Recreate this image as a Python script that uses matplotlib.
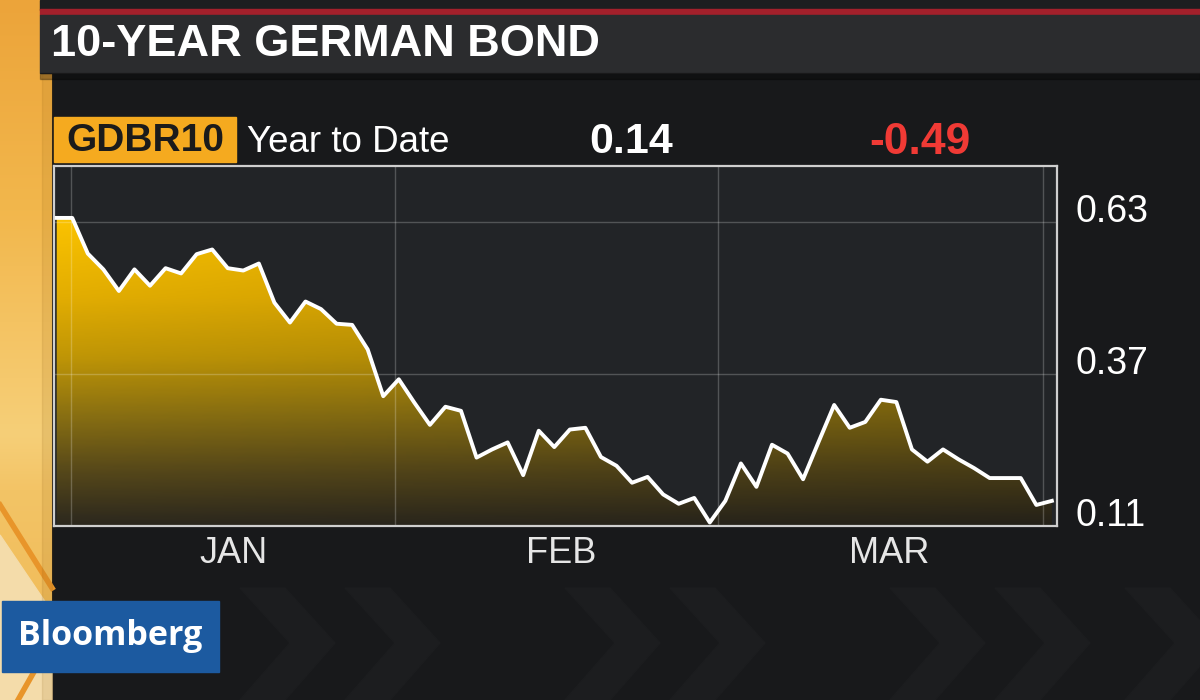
import numpy as np
import matplotlib
matplotlib.use("Agg")
import matplotlib.pyplot as plt
from matplotlib.colors import LinearSegmentedColormap
from matplotlib.patches import Rectangle, Polygon

plt.rcParams["font.family"] = ["Liberation Sans", "DejaVu Sans"]

# ---- data (GDBR10, one point per trading day) ----
YIELD = [0.637, 0.637, 0.576, 0.549, 0.512, 0.549, 0.521, 0.551, 0.542, 0.575,
         0.583, 0.551, 0.547, 0.559, 0.492, 0.458, 0.494, 0.481, 0.456, 0.454,
         0.412, 0.332, 0.361, 0.321, 0.283, 0.314, 0.307, 0.227, 0.241, 0.253,
         0.197, 0.273, 0.245, 0.275, 0.278, 0.228, 0.213, 0.184, 0.194, 0.164,
         0.148, 0.158, 0.116, 0.153, 0.217, 0.177, 0.249, 0.234, 0.190, 0.254,
         0.317, 0.278, 0.288, 0.326, 0.322, 0.241, 0.220, 0.241, 0.224, 0.209,
         0.192, 0.192, 0.192, 0.146, 0.153]
MONTHS = ["JAN", "FEB", "MAR"]
MONTH_CENTERS = [11.38, 32.43, 53.52]      # label positions (day index)
MONTH_EDGES = [0.9, 21.76, 42.55, 63.45]   # vertical grid lines (day index)
Y_TICKS = [0.11, 0.37, 0.63]
TITLE = "10-YEAR GERMAN BOND"
TICKER = "GDBR10"
PERIOD = "Year to Date"
LAST = "0.14"
CHANGE = "-0.49"

W, H = 1200, 700
PANEL = "#18191b"


def px_axes(x0, y0, x1, y1):
    return [x0 / W, 1 - y1 / H, (x1 - x0) / W, (y1 - y0) / H]


fig = plt.figure(figsize=(12, 7), dpi=100)
fig.patch.set_facecolor(PANEL)

# ---- broadcast furniture, in pixel coords ----
bg = fig.add_axes([0, 0, 1, 1])
bg.set_xlim(0, W); bg.set_ylim(H, 0); bg.axis("off")

strip = LinearSegmentedColormap.from_list(
    "strip", [(0, "#eca43a"), (0.3, "#f2b74c"), (0.62, "#f6cf78"),
              (0.7, "#f3c466"), (1, "#efb752")])
bg.imshow(np.linspace(0, 1, 256)[:, None], cmap=strip, extent=(0, 52, H, 0),
          aspect="auto", zorder=0)
bg.add_patch(Polygon([(0, 535), (52, 612), (52, 700), (0, 700)],
                     color="#f4dcaa", zorder=1))
bg.plot([0, 52], [505, 588], color="#e8952a", lw=4, zorder=2)
bg.plot([52, 18], [640, 700], color="#e8952a", lw=4, zorder=2)
bg.add_patch(Rectangle((42, 0), 10, H, color="#8a5a10", alpha=0.12, zorder=2))

# faint chevrons along the bottom
for cx in [240, 345, 565, 670, 890, 995, 1125]:
    bg.add_patch(Polygon([(cx, 588), (cx + 45, 588), (cx + 95, 643),
                          (cx + 45, 700), (cx, 700), (cx + 50, 643)],
                         color="#1c1d1f", zorder=1))

bg.add_patch(Rectangle((40, 0), W - 40, 10, color="#1d1e20", zorder=3))
bg.add_patch(Rectangle((40, 9), W - 40, 6, color="#a3202b", zorder=3))
bg.add_patch(Rectangle((40, 15), W - 40, 58, color="#2b2c2e", zorder=3))
bg.add_patch(Rectangle((40, 73), W - 40, 6, color="black", alpha=0.3, zorder=3))
bg.text(51, 45, TITLE, fontsize=32.5, weight="bold", color="white",
        va="center", ha="left", zorder=4)

bg.add_patch(Rectangle((54, 117), 182, 45, color="#f5aa1f", zorder=3))
bg.text(145, 141, TICKER, fontsize=28, weight="bold", color="#1b1b1b",
        ha="center", va="center", zorder=4)
bg.text(247, 143, PERIOD, fontsize=26.5, color="white", ha="left",
        va="center", zorder=4)
bg.text(631, 142, LAST, fontsize=31, weight="bold", color="white",
        ha="center", va="center", zorder=4)
bg.text(920, 142, CHANGE, fontsize=32, weight="bold", color="#f03a35",
        ha="center", va="center", zorder=4)

bg.add_patch(Rectangle((2, 601), 217, 71, color="#1c5aa0", zorder=3))
bg.text(110, 636, "Bloomberg", fontsize=24.5, weight="bold", color="white",
        family=["Open Sans", "DejaVu Sans"], ha="center", va="center", zorder=4)

# ---- chart ----
ax = fig.add_axes(px_axes(54, 166, 1057, 526))
ax.set_facecolor("#222427")
x = np.arange(len(YIELD))
x0, x1 = -0.174, 64.33
y0, y1 = 0.11, 0.7258
ax.set_xlim(x0, x1); ax.set_ylim(y0, y1)

# gold gradient fill under the line
stops = [(0.11, "#2c281e"), (0.20, "#55471a"), (0.30, "#8a7012"),
         (0.40, "#c09606"), (0.50, "#e2ad02"), (0.63, "#fac200"),
         (0.7258, "#ffc800")]
gold = LinearSegmentedColormap.from_list(
    "gold", [((v - y0) / (y1 - y0), c) for v, c in stops])
col = gold(np.linspace(0, 1, 300))[:, :3]
shade = 1 - 0.18 * np.linspace(0, 1, 400)
rgb = col[:, None, :] * shade[None, :, None]
im = ax.imshow(rgb, origin="lower", extent=(x0, x1, y0, y1), aspect="auto",
               interpolation="bilinear", zorder=1)
verts = [(x[0], y0)] + list(zip(x, YIELD)) + [(x[-1], y0)]
clip = Polygon(verts, closed=True, facecolor="none", edgecolor="none")
ax.add_patch(clip)
im.set_clip_path(clip)

for e in MONTH_EDGES:
    ax.axvline(e, color="white", alpha=0.22, lw=1, zorder=2)
for t in Y_TICKS:
    ax.axhline(t, color="white", alpha=0.22, lw=1, zorder=2)

ax.plot(x, YIELD, color="white", lw=2.8, zorder=4)

ax.yaxis.tick_right()
ax.set_yticks(Y_TICKS)
ax.set_yticklabels([f"{t:.2f}" for t in Y_TICKS])
ax.tick_params(axis="y", length=0, pad=13, labelsize=27, labelcolor="white")
for lab in ax.get_yticklabels():
    lab.set_verticalalignment("baseline")
ax.set_xticks(MONTH_CENTERS)
ax.set_xticklabels(MONTHS)
ax.tick_params(axis="x", length=0, pad=7, labelsize=26, labelcolor="#e6e6e6")
for s in ax.spines.values():
    s.set_color("#cfcfcf"); s.set_linewidth(1.6)

fig.savefig("out.png", dpi=100, facecolor=fig.get_facecolor())
